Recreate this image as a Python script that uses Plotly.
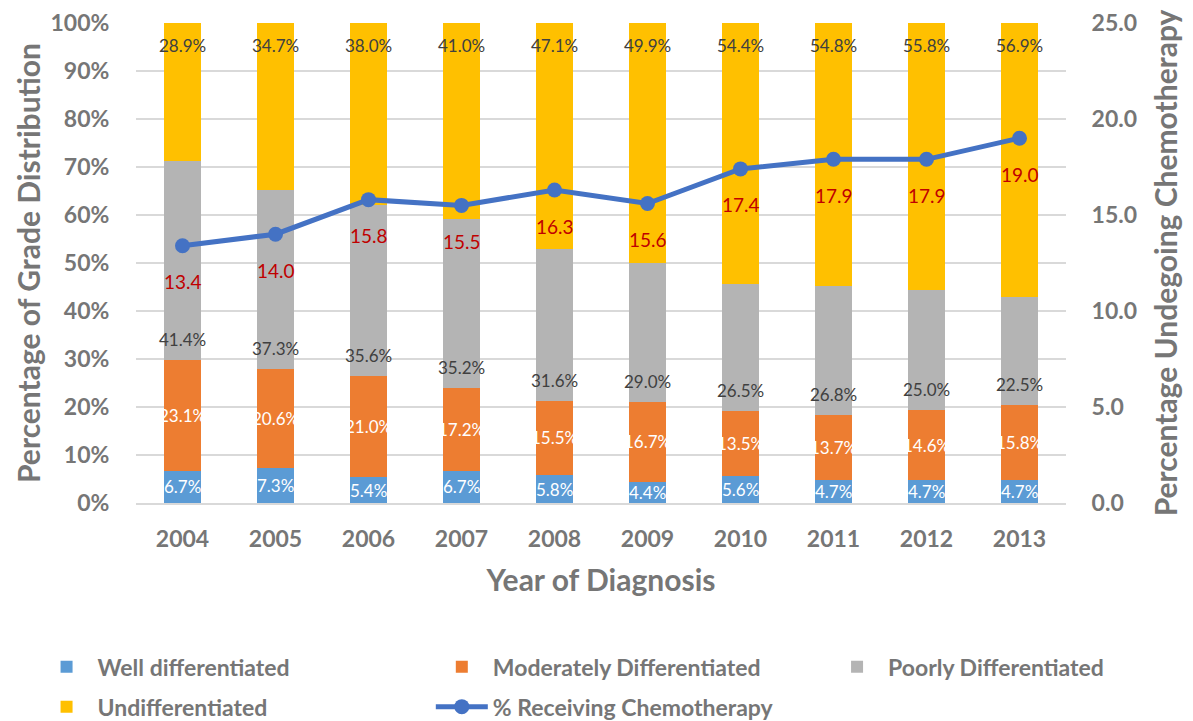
import plotly.graph_objects as go

years = ["2004", "2005", "2006", "2007", "2008", "2009", "2010", "2011", "2012", "2013"]
well = [6.7, 7.3, 5.4, 6.7, 5.8, 4.4, 5.6, 4.7, 4.7, 4.7]
moderate = [23.1, 20.6, 21.0, 17.2, 15.5, 16.7, 13.5, 13.7, 14.6, 15.8]
poorly = [41.4, 37.3, 35.6, 35.2, 31.6, 29.0, 26.5, 26.8, 25.0, 22.5]
undiff = [28.9, 34.7, 38.0, 41.0, 47.1, 49.9, 54.4, 54.8, 55.8, 56.9]
chemo = [13.4, 14.0, 15.8, 15.5, 16.3, 15.6, 17.4, 17.9, 17.9, 19.0]

FONT = "Lato"
GRAY = "#767676"
DARK = "#404040"

fig = go.Figure()
series = [
    ("Well differentiated", well, "#5B9BD5", "legend"),
    ("Moderately Differentiated", moderate, "#ED7D31", "legend2"),
    ("Poorly Differentiated", poorly, "#B4B4B4", "legend3"),
    ("Undifferentiated", undiff, "#FFC000", "legend"),
]
for name, vals, col, lg in series:
    fig.add_trace(go.Bar(x=years, y=vals, name=name, marker=dict(color=col, line=dict(width=0)),
                         width=0.4, textposition="none", legend=lg, legendgroup=name))

fig.add_trace(go.Scatter(x=years, y=chemo, name="% Receiving Chemotherapy", yaxis="y2",
                         mode="lines+markers", line=dict(color="#4472C4", width=5),
                         marker=dict(size=15, color="#4472C4"), legend="legend2",
                         legendgroup="chemo"))

annotations = []
lab_font = dict(family=FONT, size=17)
for i, yr in enumerate(years):
    b1 = well[i]
    b2 = b1 + moderate[i]
    b3 = b2 + poorly[i]
    top = min(b3 + undiff[i], 100)
    annotations.append(dict(x=i, y=b1 / 2, text=f"{well[i]:.1f}%", showarrow=False,
                            font=dict(lab_font, color="white")))
    annotations.append(dict(x=i, y=b1 + moderate[i] / 2, text=f"{moderate[i]:.1f}%", showarrow=False,
                            font=dict(lab_font, color="white")))
    annotations.append(dict(x=i, y=b2, text=f"{poorly[i]:.1f}%", showarrow=False, yanchor="bottom",
                            yshift=8, font=dict(lab_font, color=DARK)))
    annotations.append(dict(x=i, y=top, text=f"{undiff[i]:.1f}%", showarrow=False, yanchor="top",
                            yshift=-10, font=dict(lab_font, color=DARK)))
    annotations.append(dict(x=i, y=chemo[i], yref="y2", text=f"{chemo[i]:.1f}", showarrow=False,
                            yshift=-36, font=dict(family=FONT, size=19, color="#C00000")))

legend_common = dict(
    orientation="v", yref="container", y=0.105, yanchor="top", xanchor="left",
    font=dict(family=FONT, size=23, color=GRAY, weight="bold"),
    tracegroupgap=7, itemwidth=52, bgcolor="rgba(0,0,0,0)",
)

fig.update_layout(
    width=1193, height=721,
    barmode="stack",
    plot_bgcolor="white", paper_bgcolor="white",
    margin=dict(l=136, r=127, t=23, b=218, autoexpand=False),
    font=dict(family=FONT, color=GRAY),
    annotations=annotations,
    xaxis=dict(
        type="category", range=[-0.5, len(years) - 0.5],
        tickfont=dict(family=FONT, size=23, color=GRAY, weight="bold"),
        title=dict(text="Year of Diagnosis", font=dict(family=FONT, size=30, color=GRAY, weight="bold"), standoff=19),
        showline=True, linecolor="#D9D9D9", linewidth=1.5,
        ticks="outside", ticklen=15, tickcolor="rgba(0,0,0,0)",
    ),
    yaxis=dict(
        range=[0, 100], dtick=10, ticksuffix="%",
        tickfont=dict(family=FONT, size=23, color=GRAY, weight="bold"),
        title=dict(text="Percentage of Grade Distribution", font=dict(family=FONT, size=30, color=GRAY, weight="bold"), standoff=1),
        gridcolor="#D9D9D9", gridwidth=1.5, zeroline=False,
        ticks="outside", ticklen=21, tickcolor="rgba(0,0,0,0)",
    ),
    yaxis2=dict(
        range=[0, 25], dtick=5, tickformat=".1f", overlaying="y", side="right",
        tickfont=dict(family=FONT, size=23, color=GRAY, weight="bold"),
        title=dict(text="Percentage Undegoing Chemotherapy", font=dict(family=FONT, size=30, color=GRAY, weight="bold"), standoff=19),
        showgrid=False, zeroline=False,
        ticks="outside", ticklen=20, tickcolor="rgba(0,0,0,0)",
    ),
    legend=dict(legend_common, x=-0.108),
    legend2=dict(legend_common, x=0.317),
    legend3=dict(legend_common, x=0.742),
)

fig.write_html("out.html", post_script="document.body.style.margin='0';",
               config={"displayModeBar": False})
